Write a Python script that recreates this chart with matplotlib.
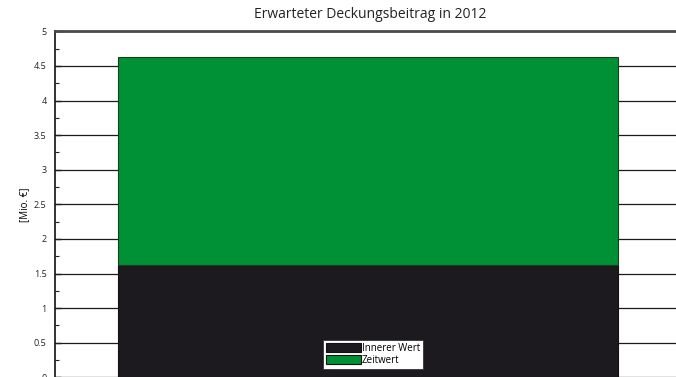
import matplotlib.pyplot as plt
from matplotlib.ticker import MultipleLocator
from matplotlib.patches import Patch

plt.rcParams['font.family'] = ['Open Sans', 'DejaVu Sans']

# Deckungsbeitrag 2012, Mio. EUR
kategorie = ['2012']
innerer_wert = [1.62]
zeitwert = [3.01]
farben = {'Innerer Wert': '#1c1a1f', 'Zeitwert': '#009036'}

fig = plt.figure(figsize=(6.76, 3.77), dpi=100)
ax = fig.add_axes([55 / 676, -0.001, 625 / 676, 346 / 377])

x = range(len(kategorie))
ax.bar(x, innerer_wert, width=0.8, color=farben['Innerer Wert'],
       edgecolor='#111111', linewidth=0.8, zorder=3)
ax.bar(x, zeitwert, width=0.8, bottom=innerer_wert, color=farben['Zeitwert'],
       edgecolor='#1a3a22', linewidth=0.8, zorder=3)

ax.set_xlim(-0.5, 0.5)
ax.set_ylim(0, 5)
ax.yaxis.set_minor_locator(MultipleLocator(0.25))
ax.set_yticks([0, 0.5, 1, 1.5, 2, 2.5, 3, 3.5, 4, 4.5, 5])
ax.set_yticklabels(['0', '0.5', '1', '1.5', '2', '2.5', '3', '3.5', '4', '4.5', '5'])
ax.tick_params(axis='y', which='major', direction='in', length=4, width=1,
               labelsize=6.5, pad=6, colors='#222222')
ax.tick_params(axis='y', which='minor', direction='in', length=3, width=0.8,
               colors='#222222')
ax.set_xticks([])
ax.yaxis.grid(True, which='major', color='#1a1a1a', linewidth=0.9, zorder=0)

ax.spines['left'].set_color('#111111')
ax.spines['left'].set_linewidth(1.2)
ax.spines['top'].set_color('#4a4a4a')
ax.spines['top'].set_linewidth(2)
ax.spines['right'].set_visible(False)
ax.spines['bottom'].set_visible(False)

ax.set_ylabel('[Mio. €]', fontsize=7, labelpad=3)
fig.text(370 / 676, 1 - 14 / 377, 'Erwarteter Deckungsbeitrag in 2012',
         ha='center', va='center', fontsize=10, color='#222222')

handles = [Patch(facecolor=farben[k], edgecolor='#111111', linewidth=0.8)
           for k in farben]
leg = ax.legend(handles, list(farben), loc='center',
                bbox_to_anchor=((373 - 55) / 625, (377 - 354) / 346),
                fontsize=7, frameon=True, fancybox=False, framealpha=1,
                handlelength=3.6, handleheight=0.95, handletextpad=0.15,
                borderpad=0.3, labelspacing=0.1, borderaxespad=0)
leg.get_frame().set_edgecolor('#333333')
leg.get_frame().set_linewidth(0.6)
leg.set_zorder(5)

fig.savefig('out.png', dpi=100)
